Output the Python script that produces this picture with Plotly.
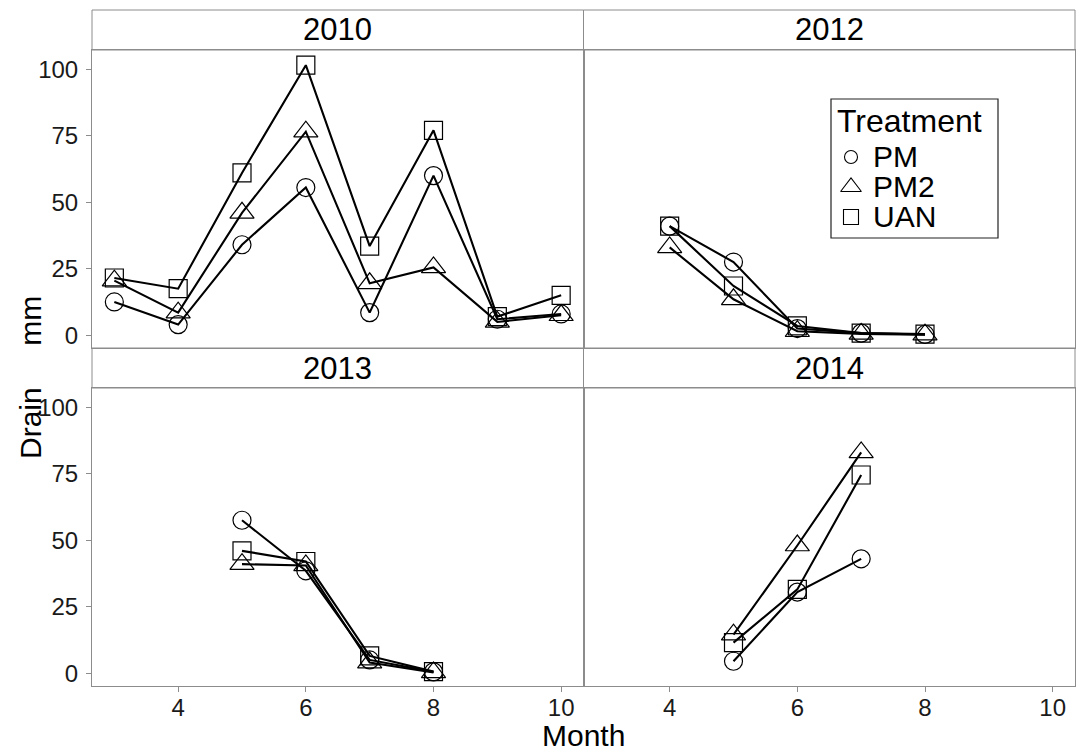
import plotly.graph_objects as go

# ---- data: drainage (mm) by month, treatment and year ----
months_2010 = [3, 4, 5, 6, 7, 8, 9, 10]
pm_2010 = [12.5, 4.0, 34.0, 55.5, 8.5, 60.0, 6.0, 8.0]
pm2_2010 = [20.5, 8.5, 46.0, 76.5, 19.5, 25.5, 5.0, 7.5]
uan_2010 = [21.5, 17.5, 61.0, 101.5, 33.5, 77.0, 7.0, 15.0]

months_2012 = [4, 5, 6, 7, 8]
pm_2012 = [41.0, 27.5, 2.5, 0.8, 0.3]
pm2_2012 = [33.0, 13.5, 1.5, 0.5, 0.2]
uan_2012 = [41.0, 18.5, 3.5, 0.8, 0.4]

months_2013 = [5, 6, 7, 8]
pm_2013 = [57.5, 38.5, 5.0, 0.5]
pm2_2013 = [41.0, 40.5, 4.0, 0.3]
uan_2013 = [46.0, 42.0, 6.5, 0.6]

months_2014 = [5, 6, 7]
pm_2014 = [4.5, 30.5, 43.0]
pm2_2014 = [14.5, 48.0, 83.0]
uan_2014 = [11.5, 31.5, 74.5]

years = ["2010", "2012", "2013", "2014"]
treatments = ["PM", "PM2", "UAN"]
x_ticks = [4, 6, 8, 10]
y_ticks = [0, 25, 50, 75, 100]

panels = {
    "2010": (months_2010, [pm_2010, pm2_2010, uan_2010]),
    "2012": (months_2012, [pm_2012, pm2_2012, uan_2012]),
    "2013": (months_2013, [pm_2013, pm2_2013, uan_2013]),
    "2014": (months_2014, [pm_2014, pm2_2014, uan_2014]),
}

# ---- styling ----
FONT = "Liberation Sans, Arial, sans-serif"
GREY = "#8c8c8c"
symbols = {"PM": "circle-open", "PM2": "triangle-up-open", "UAN": "square-open"}
msize = {"PM": 18, "PM2": 21, "UAN": 18}

W, H = 1076, 752
ML, MR, MT, MB = 92, 1, 10, 66
PW, PH = W - ML - MR, H - MT - MB
STRIP = 40
panel_h = (PH - 2 * STRIP) / 2

x_range = [2.65, 10.35]
y_range = [-4.8, 107.2]


def px_x(px):
    return (px - ML) / PW


def px_y(py):
    return (MT + PH - py) / PH


bot_panel = [0, panel_h / PH]
bot_strip = [panel_h / PH, (panel_h + STRIP) / PH]
top_panel = [(panel_h + STRIP) / PH, (2 * panel_h + STRIP) / PH]
top_strip = [(2 * panel_h + STRIP) / PH, 1]

fig = go.Figure()

axis_ids = ["", "2", "3", "4"]
for i, yr in enumerate(years):
    months, series = panels[yr]
    ax = axis_ids[i]
    for tr, vals in zip(treatments, series):
        fig.add_trace(go.Scatter(
            x=months, y=vals, mode="lines+markers", name=tr,
            xaxis="x" + ax, yaxis="y" + ax, showlegend=False,
            line=dict(color="black", width=2.1),
            marker=dict(symbol=symbols[tr], size=msize[tr], color="black",
                        line=dict(color="black", width=1.2)),
            cliponaxis=False,
        ))

common_axis = dict(showline=True, mirror=True, linecolor=GREY, linewidth=1,
                   showgrid=False, zeroline=False,
                   tickfont=dict(family=FONT, size=24, color="#1a1a1a"),
                   tickcolor=GREY, ticklen=5, tickwidth=1)

layout = dict(
    width=W, height=H,
    margin=dict(l=ML, r=MR, t=MT, b=MB),
    paper_bgcolor="white", plot_bgcolor="white",
    font=dict(family=FONT, color="black"),
    showlegend=False,
)

col_dom = [[0, 0.5], [0.5, 1]]
row_dom = [top_panel, bot_panel]
for i, ax in enumerate(axis_ids):
    r, c = divmod(i, 2)
    xa = dict(common_axis, domain=col_dom[c], anchor="y" + ax, range=x_range,
              tickvals=x_ticks)
    ya = dict(common_axis, domain=row_dom[r], anchor="x" + ax, range=y_range,
              tickvals=y_ticks)
    if r == 1:
        xa.update(ticks="outside", showticklabels=True, ticklabelstandoff=-5)
    else:
        xa.update(ticks="", showticklabels=False)
    if c == 0:
        ya.update(ticks="outside", showticklabels=True, ticklabelstandoff=3)
    else:
        ya.update(ticks="", showticklabels=False)
    layout["xaxis" + ax] = xa
    layout["yaxis" + ax] = ya

fig.update_layout(**layout)

# facet strips
strip_rows = [top_strip, bot_strip]
for i, yr in enumerate(years):
    r, c = divmod(i, 2)
    x0, x1 = col_dom[c]
    y0, y1 = strip_rows[r]
    fig.add_shape(type="rect", xref="paper", yref="paper", x0=x0, x1=x1,
                  y0=y0, y1=y1, line=dict(color=GREY, width=1),
                  fillcolor="white", layer="below")
    fig.add_annotation(text=yr, xref="paper", yref="paper",
                       x=(x0 + x1) / 2, y=(y0 + y1) / 2, showarrow=False,
                       xanchor="center", yanchor="middle",
                       font=dict(family=FONT, size=31, color="black"))

# axis titles
fig.add_annotation(text="Month", xref="paper", yref="paper",
                   x=px_x(583.5), y=px_y(735), showarrow=False,
                   xanchor="center", yanchor="middle",
                   font=dict(family=FONT, size=30, color="black"))
fig.add_annotation(text="Drain\u00a0\u00a0\u00a0\u00a0\u00a0mm", xref="paper",
                   yref="paper", x=px_x(30), y=px_y(378), showarrow=False,
                   textangle=-90, xanchor="center", yanchor="middle",
                   font=dict(family=FONT, size=30, color="black"))

# legend box inside the 2012 panel
fig.add_shape(type="rect", xref="paper", yref="paper",
              x0=px_x(831), x1=px_x(998), y0=px_y(238), y1=px_y(99),
              line=dict(color="#222222", width=1.2), fillcolor="white",
              layer="below")
fig.add_annotation(text="Treatment", xref="paper", yref="paper",
                   x=px_x(835), y=px_y(121), showarrow=False,
                   xanchor="left", yanchor="middle",
                   font=dict(family=FONT, size=32, color="black"))

# legend keys drawn on the 2012 panel's axes
x2_dom = col_dom[1]
x2_px0 = ML + x2_dom[0] * PW
x2_scale = (x2_dom[1] - x2_dom[0]) * PW / (x_range[1] - x_range[0])
y2_px0 = MT + PH - top_panel[0] * PH
y2_scale = (top_panel[1] - top_panel[0]) * PH / (y_range[1] - y_range[0])


def data_x2(px):
    return x_range[0] + (px - x2_px0) / x2_scale


def data_y2(py):
    return y_range[0] + (y2_px0 - py) / y2_scale


key_rows = [157, 187, 217]
key_size = {"PM": 13, "PM2": 18, "UAN": 15}
for tr, ry in zip(treatments, key_rows):
    fig.add_trace(go.Scatter(
        x=[data_x2(851)], y=[data_y2(ry)], mode="markers",
        xaxis="x2", yaxis="y2", showlegend=False, hoverinfo="skip",
        marker=dict(symbol=symbols[tr], size=key_size[tr], color="black",
                    line=dict(color="black", width=1.1)),
    ))
    fig.add_annotation(text=tr, xref="paper", yref="paper",
                       x=px_x(871), y=px_y(ry), showarrow=False,
                       xanchor="left", yanchor="middle",
                       font=dict(family=FONT, size=30, color="black"))

fig.write_html("out.html")
